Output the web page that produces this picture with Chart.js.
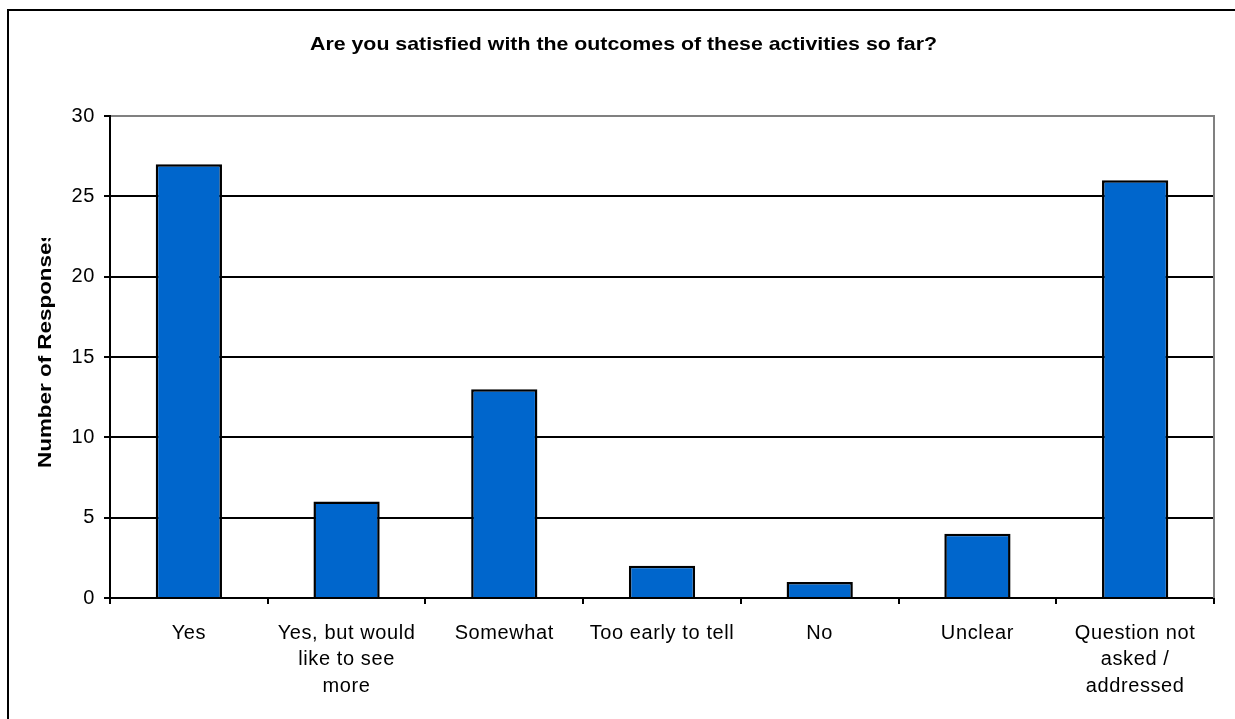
<!DOCTYPE html>
<html>
<head>
<meta charset="utf-8">
<script src="https://cdn.jsdelivr.net/npm/chart.js@4"></script>
<style>
    html, body { margin: 0; padding: 0; background: #fff; }
    #wrap { width: 1235px; height: 719px; position: relative; }
</style>
</head>
<body>
<div id="wrap"><canvas id="chart"></canvas></div>
<script>
// chart data
const categories = [
    "Yes",
    ["Yes, but would", "like to see", "more"],
    "Somewhat",
    "Too early to tell",
    "No",
    "Unclear",
    ["Question not", "asked /", "addressed"]
];
const responses = [27, 6, 13, 2, 1, 4, 26];
const yTicks = [0, 5, 10, 15, 20, 25, 30];

const chartTitle = "Are you satisfied with the outcomes of these activities so far?";
const yTitle = "Number of Responses";

const FONT = "'Liberation Sans', Arial, sans-serif";

// draws frame, title, clipped y title and grey plot border
const decorPlugin = {
    id: "decor",
    beforeDraw: function(chart) {
        chart.ctx.letterSpacing = "0.6px";
    },
    afterDraw: function(chart) {
        let ctx = chart.ctx;
        let area = chart.chartArea;
        ctx.save();
        ctx.letterSpacing = "0px";

        // outer frame
        ctx.strokeStyle = "#000";
        ctx.lineWidth = 2;
        ctx.strokeRect(8, 10, 1400, 900);

        // plot border right
        ctx.strokeStyle = "#808080";
        ctx.beginPath();
        ctx.moveTo(area.right, area.top - 1);
        ctx.lineTo(area.right, area.bottom);
        ctx.stroke();

        // main title, stretched to width
        ctx.fillStyle = "#000";
        ctx.font = "bold 19px " + FONT;
        ctx.textBaseline = "middle";
        ctx.textAlign = "left";
        let w = ctx.measureText(chartTitle).width;
        let target = 627;
        ctx.save();
        ctx.translate(310, 45);
        ctx.scale(target / w, 1);
        ctx.fillText(chartTitle, 0, 0);
        ctx.restore();

        // y axis title, clipped at top like the original
        ctx.save();
        ctx.beginPath();
        ctx.rect(0, 238, 100, 400);
        ctx.clip();
        ctx.translate(46, 468);
        ctx.rotate(-Math.PI / 2);
        ctx.scale(1.18, 1);
        ctx.font = "bold 19px " + FONT;
        ctx.fillText(yTitle, 0, 0);
        ctx.restore();

        ctx.restore();
    }
};

const config = {
    type: "bar",
    data: {
        labels: categories,
        datasets: [{
            data: responses,
            backgroundColor: "#0066CC",
            borderColor: "#000",
            borderWidth: 2.5,
            categoryPercentage: 1,
            barPercentage: 0.42,
        }]
    },
    options: {
        responsive: false,
        animation: false,
        devicePixelRatio: 1,
        layout: {
            padding: {top: 116, right: 21, left: 0, bottom: 0}
        },
        plugins: {
            legend: {display: false},
            title: {display: false},
            tooltip: {enabled: false}
        },
        scales: {
            x: {
                grid: {
                    offset: true,
                    drawOnChartArea: false,
                    drawTicks: true,
                    tickLength: 6,
                    color: "#000",
                    lineWidth: 2,
                },
                border: {color: "#000", width: 2},
                ticks: {
                    color: "#000",
                    padding: 16,
                    maxRotation: 0,
                    autoSkip: false,
                    font: {family: FONT, size: 20, lineHeight: 1.33}
                },
                afterFit: function(scale) { scale.height = 121; }
            },
            y: {
                min: 0,
                max: 30,
                afterBuildTicks: function(scale) {
                    scale.ticks = yTicks.map(function(v) { return {value: v}; });
                },
                grid: {
                    drawTicks: true,
                    tickLength: 6,
                    color: function(ctx) {
                        return (ctx.tick && ctx.tick.value === 30) ? "#808080" : "#000";
                    },
                    tickColor: "#000",
                    lineWidth: 2,
                },
                border: {color: "#000", width: 2},
                ticks: {
                    color: "#000",
                    padding: 9,
                    font: {family: FONT, size: 20}
                },
                afterFit: function(scale) { scale.width = 110; }
            }
        }
    },
    plugins: [decorPlugin]
};

let canvas = document.getElementById("chart");
canvas.width = 1235;
canvas.height = 719;
new Chart(canvas, config);
</script>
</body>
</html>
